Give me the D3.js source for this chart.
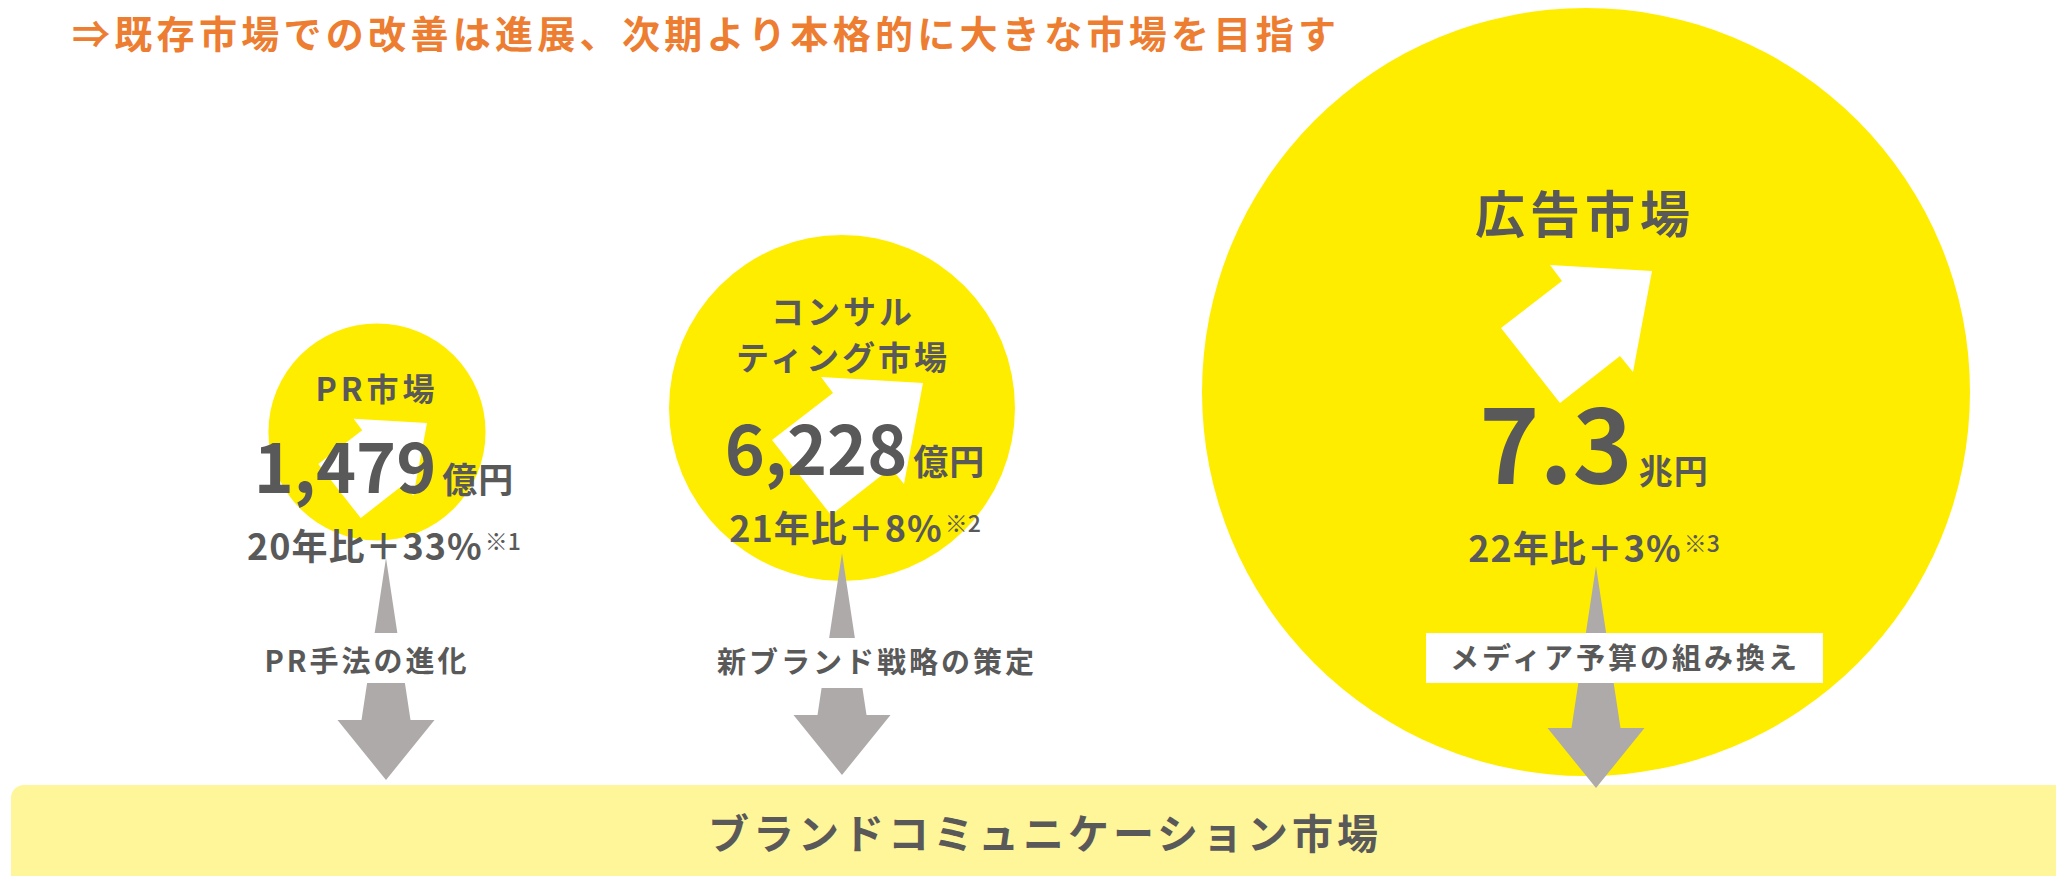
<!DOCTYPE html>
<html><head><meta charset="utf-8">
<script src="https://cdn.jsdelivr.net/npm/d3@7"></script>
<style>
html,body{margin:0;padding:0;background:#fff;overflow:hidden;}
svg{display:block;font-family:"Noto Sans CJK JP","Noto Sans",sans-serif;}
</style></head>
<body><svg id="c" width="2056" height="876"></svg>
<script>
// ---- data ----
const headline = "⇒既存市場での改善は進展、次期より本格的に大きな市場を目指す";
const markets = ["PR市場", "コンサルティング市場", "広告市場"];
const titleLines = [["PR市場"], ["コンサル", "ティング市場"], ["広告市場"]];
const marketSize = [1479, 6228, 73000];           // 億円
const valueLabels = ["1,479", "6,228", "7.3"];
const unitLabels = ["億円", "億円", "兆円"];
const growthLabels = ["20年比＋33%", "21年比＋8%", "22年比＋3%"];
const noteLabels = ["※1", "※2", "※3"];
const driverLabels = ["PR手法の進化", "新ブランド戦略の策定", "メディア予算の組み換え"];
const targetMarket = "ブランドコミュニケーション市場";

// ---- layout ----
const W = 2056, H = 876;
const circleX = d3.scaleOrdinal().domain(markets).range([377, 842, 1586]);
const circleY = d3.scaleOrdinal().domain(markets).range([432, 408, 392]);
const rScale = d3.scalePow().exponent(0.324).domain([0, 73000]).range([0, 384]);
const rowX = d3.scaleOrdinal().domain(markets).range([384, 855, 1594]);
const titleX = d3.scaleOrdinal().domain(markets).range([377, 843, 1585]);
const titleY = [[387], [310, 356], [211]];
const titleFont = [32, 33, 50], titleSpacing = [4, 3, 5];
const valueBase = [493, 475, 484], valueFont = [68, 68, 102], unitFont = [35, 35, 34];
const growthBase = [560, 542, 562], growthFont = [36, 36, 36];
const upTip = [[427, 423], [923, 383], [1652, 271]], upScale = [0.72, 1, 1];
const downX = [386, 842, 1596], downTop = [558, 553, 566];
const labelX = [367, 877, 1625], labelY = [659, 660, 656];
const labelBox = [[1426, 633, 397, 50]];
const C = {yellow: "#FFED00", band: "#FFF599", gray: "#AEAAA9", text: "#595959", orange: "#ED7D31"};

const svg = d3.select("#c");

// headline
svg.append("text").attr("x", 72).attr("y", 31).attr("dominant-baseline", "central")
  .attr("font-size", 38).attr("font-weight", 700).attr("letter-spacing", 4.3)
  .attr("fill", C.orange).text(headline);

// bottom band
svg.append("rect").attr("x", 11).attr("y", 785).attr("width", W).attr("height", 120)
  .attr("rx", 13).attr("fill", C.band);
svg.append("text").attr("x", 1045).attr("y", 831).attr("text-anchor", "middle")
  .attr("dominant-baseline", "central").attr("font-size", 41).attr("font-weight", 700)
  .attr("letter-spacing", 4).attr("fill", C.text).text(targetMarket);

// circles
svg.selectAll("circle.m").data(markets).join("circle").attr("class", "m")
  .attr("cx", d => circleX(d)).attr("cy", d => circleY(d))
  .attr("r", (d, i) => rScale(marketSize[i])).attr("fill", C.yellow);

// white up arrows
const upShape = [[0,0],[-102,-6],[-90,10],[-151,57],[-92,132],[-32,85],[-19,101]];
const line = d3.line().curve(d3.curveLinearClosed);
svg.selectAll("path.up").data(markets).join("path").attr("class", "up")
  .attr("transform", (d, i) => `translate(${upTip[i][0]},${upTip[i][1]}) scale(${upScale[i]})`)
  .attr("d", line(upShape)).attr("fill", "#fff");

// titles
markets.forEach((m, i) => {
  titleLines[i].forEach((t, j) => {
    svg.append("text").attr("x", titleX(m)).attr("y", titleY[i][j])
      .attr("text-anchor", "middle").attr("dominant-baseline", "central")
      .attr("font-size", titleFont[i]).attr("font-weight", 700)
      .attr("letter-spacing", titleSpacing[i]).attr("fill", C.text).text(t);
  });
  // value row
  const v = svg.append("text").attr("x", rowX(m)).attr("y", valueBase[i])
    .attr("text-anchor", "middle").attr("font-weight", 700).attr("fill", C.text);
  v.append("tspan").attr("font-size", valueFont[i]).attr("letter-spacing", 0).text(valueLabels[i]);
  v.append("tspan").attr("dx", 6).attr("font-size", unitFont[i]).attr("letter-spacing", 1).text(unitLabels[i]);
  // growth row
  const g = svg.append("text").attr("x", rowX(m)).attr("y", growthBase[i])
    .attr("text-anchor", "middle").attr("font-weight", 700).attr("fill", C.text);
  g.append("tspan").attr("font-size", growthFont[i]).attr("letter-spacing", 1).text(growthLabels[i]);
  g.append("tspan").attr("dx", 2).attr("dy", -10).attr("font-size", 23).attr("font-weight", 500).text(noteLabels[i]);
});

// gray down arrows
const headTop = 162, tipLen = 222, shaftW = 49, headW = 97;
svg.selectAll("path.down").data(markets).join("path").attr("class", "down")
  .attr("transform", (d, i) => `translate(${downX[i]},${downTop[i]})`)
  .attr("d", line([[0,0],[shaftW/2,headTop],[headW/2,headTop],[0,tipLen],[-headW/2,headTop],[-shaftW/2,headTop]]))
  .attr("fill", C.gray);

// label backgrounds + labels
svg.append("rect").attr("x", 250).attr("y", 633).attr("width", 240).attr("height", 50).attr("fill", "#fff");
svg.append("rect").attr("x", 700).attr("y", 638).attr("width", 355).attr("height", 50).attr("fill", "#fff");
labelBox.forEach(b => svg.append("rect").attr("x", b[0]).attr("y", b[1]).attr("width", b[2]).attr("height", b[3]).attr("fill", "#fff"));
driverLabels.forEach((t, i) => {
  svg.append("text").attr("x", labelX[i]).attr("y", labelY[i]).attr("text-anchor", "middle")
    .attr("dominant-baseline", "central").attr("font-size", 29).attr("font-weight", 700)
    .attr("letter-spacing", 3).attr("fill", C.text).text(t);
});
</script></body></html>
